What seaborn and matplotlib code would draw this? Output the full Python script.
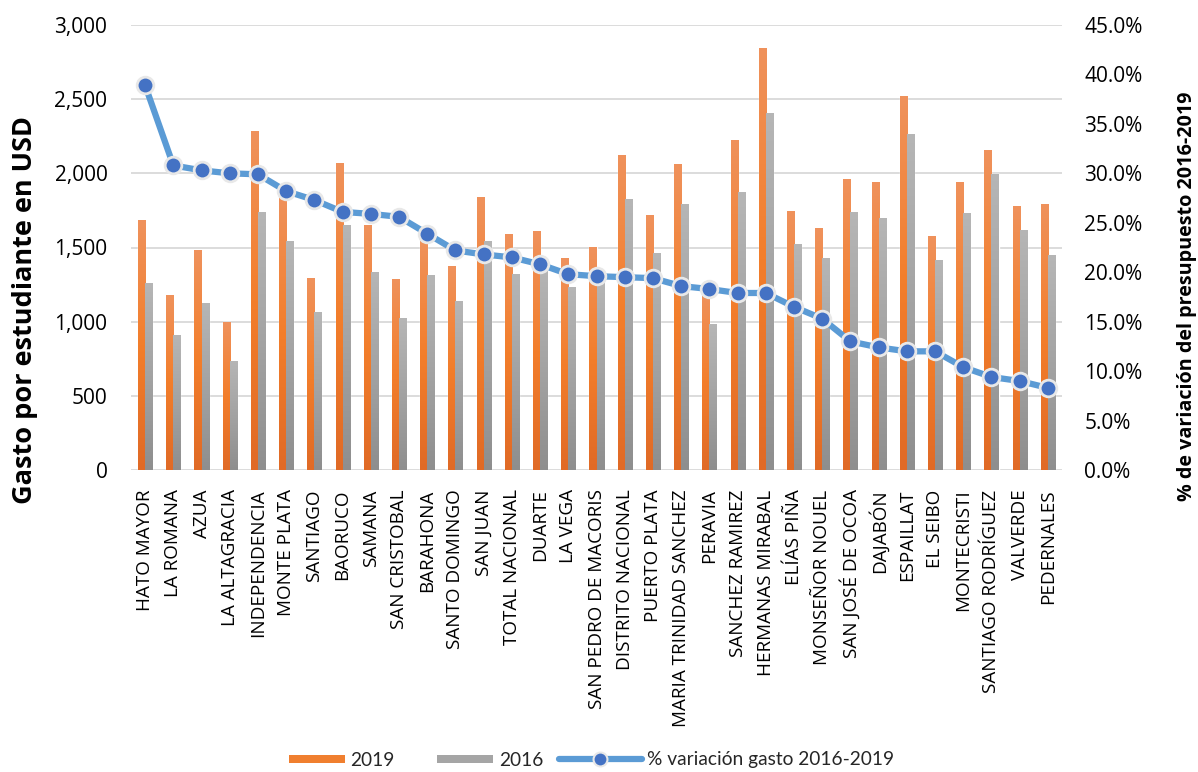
import numpy as np
import pandas as pd
import matplotlib
matplotlib.use("Agg")
import matplotlib.pyplot as plt
import seaborn as sns
from matplotlib.colors import LinearSegmentedColormap
from matplotlib.patches import Rectangle, Patch
from matplotlib.lines import Line2D
from matplotlib.legend_handler import HandlerPatch, HandlerLine2D
from matplotlib.ticker import FuncFormatter, MultipleLocator

# Provincias ordenadas por variación del presupuesto
provincias = [
    "HATO MAYOR", "LA ROMANA", "AZUA", "LA ALTAGRACIA", "INDEPENDENCIA",
    "MONTE PLATA", "SANTIAGO", "BAORUCO", "SAMANA", "SAN CRISTOBAL",
    "BARAHONA", "SANTO DOMINGO", "SAN JUAN", "TOTAL NACIONAL", "DUARTE",
    "LA VEGA", "SAN PEDRO DE MACORIS", "DISTRITO NACIONAL", "PUERTO PLATA",
    "MARIA TRINIDAD SANCHEZ", "PERAVIA", "SANCHEZ RAMIREZ", "HERMANAS MIRABAL",
    "ELÍAS PIÑA", "MONSEÑOR NOUEL", "SAN JOSÉ DE OCOA", "DAJABÓN", "ESPAILLAT",
    "EL SEIBO", "MONTECRISTI", "SANTIAGO RODRÍGUEZ", "VALVERDE", "PEDERNALES",
]

# Gasto por estudiante (USD)
gasto_2019 = [1685, 1180, 1483, 998, 2285, 1855, 1294, 2070, 1649, 1288,
              1551, 1375, 1840, 1591, 1611, 1429, 1503, 2124, 1719, 2063,
              1200, 2225, 2845, 1746, 1631, 1962, 1942, 2521, 1578, 1942,
              2157, 1780, 1793]
gasto_2016 = [1261, 910, 1126, 735, 1739, 1544, 1065, 1649, 1335, 1025,
              1315, 1139, 1544, 1321, 1380, 1234, 1300, 1827, 1463, 1793,
              984, 1874, 2407, 1524, 1429, 1739, 1699, 2265, 1416, 1733,
              1996, 1618, 1449]

# Variación del presupuesto 2016-2019 (%)
variacion_pct = [38.9, 30.8, 30.3, 30.0, 29.9, 28.2, 27.3, 26.1, 25.9, 25.6,
                 23.9, 22.2, 21.8, 21.5, 20.8, 19.8, 19.6, 19.5, 19.4, 18.6,
                 18.3, 17.9, 17.9, 16.5, 15.3, 13.0, 12.4, 12.0, 12.0, 10.4,
                 9.4, 9.0, 8.3]

anios = ["2019", "2016"]
color_2019 = "#F07F2F"
color_2016 = "#A5A5A5"
color_linea = "#5B9BD5"
color_marcador = "#4472C4"

sns.set_theme(style="white")
plt.rcParams["font.family"] = ["Open Sans", "DejaVu Sans"]
fuente_compacta = ["Lato", "DejaVu Sans"]
texto = "#000000"

n = len(provincias)
df = pd.DataFrame({
    "provincia": provincias * 2,
    "gasto": gasto_2019 + gasto_2016,
    "anio": [anios[0]] * n + [anios[1]] * n,
})

fig = plt.figure(figsize=(11.98, 7.72), dpi=100)
ax = fig.add_axes([131 / 1198, 1 - 470 / 772, (1062 - 131) / 1198, 445 / 772])

sns.barplot(data=df, x="provincia", y="gasto", hue="anio", hue_order=anios,
            palette={anios[0]: color_2019, anios[1]: color_2016},
            width=0.5, gap=0, saturation=1, errorbar=None, legend=False, ax=ax)

# Degradado vertical dentro de cada barra
grad = np.linspace(0, 1, 256).reshape(-1, 1)
cmaps = [
    LinearSegmentedColormap.from_list("g19", ["#E06A26", "#F37E2B", "#EF925C"]),
    LinearSegmentedColormap.from_list("g16", ["#8E8E8E", "#A3A3A3", "#B6B6B6"]),
]
for cont, cmap in zip(ax.containers, cmaps):
    for bar in cont:
        x0, y0 = bar.get_x(), bar.get_y()
        w, h = bar.get_width(), bar.get_height()
        im = ax.imshow(grad, extent=[x0, x0 + w, y0, y0 + h], origin="lower",
                       aspect="auto", cmap=cmap, zorder=bar.get_zorder(),
                       interpolation="bilinear")
        im.set_clip_path(bar)

ax.set_xlim(-0.5, n - 0.5)
ax.set_ylim(0, 3000)
ax.yaxis.set_major_locator(MultipleLocator(500))
ax.yaxis.set_major_formatter(FuncFormatter(lambda v, p: f"{v:,.0f}"))
ax.yaxis.grid(True, color="#D9D9D9", lw=1.3)
ax.xaxis.grid(False)
ax.set_axisbelow(True)
for s in ax.spines.values():
    s.set_visible(False)
ax.set_xlabel("")
ax.set_ylabel("")
ax.tick_params(axis="y", length=0, pad=17, labelsize=15, labelcolor=texto)
ax.tick_params(axis="x", length=0, pad=14, labelsize=13.6, labelcolor=texto)
plt.setp(ax.get_xticklabels(), rotation=90, ha="center", va="top")

# Línea de variación en el eje secundario
ax2 = ax.twinx()
sns.lineplot(x=np.arange(n), y=variacion_pct, ax=ax2, color=color_linea, lw=4.5,
             marker="o", markersize=12, markerfacecolor=color_marcador,
             markeredgecolor="#E8E8E8", markeredgewidth=2, legend=False)
ax2.set_ylim(0, 45)
ax2.yaxis.set_major_locator(MultipleLocator(5))
ax2.yaxis.set_major_formatter(FuncFormatter(lambda v, p: f"{v:.1f}%"))
ax2.grid(False)
for s in ax2.spines.values():
    s.set_visible(False)
ax2.set_ylabel("")
ax2.tick_params(axis="y", length=0, pad=16, labelsize=15, labelcolor=texto)
ax2.set_xlim(-0.5, n - 0.5)

fig.text(25 / 1198, 1 - 310 / 772, "Gasto por estudiante en USD", rotation=90,
         ha="center", va="center", fontsize=19.5, fontweight="bold", color=texto)
fig.text(1187 / 1198, 1 - 296 / 772, "% de variación del presupuesto 2016-2019",
         rotation=90, ha="center", va="center", fontsize=14.2, fontweight="bold",
         color=texto)


def barra_leyenda(legend, orig_handle, xdescent, ydescent, width, height, fontsize):
    w = width * 56 / 83
    h = fontsize * 0.42
    return Rectangle((-xdescent + width - w, -ydescent + (height - h) / 2), w, h)


class LineaConMarcador(HandlerLine2D):
    """Marcador de la leyenda desplazado hacia la derecha del trazo."""

    def get_xdata(self, legend, xdescent, ydescent, width, height, fontsize):
        xdata, xmarker = super().get_xdata(legend, xdescent, ydescent,
                                           width, height, fontsize)
        return xdata, np.asarray(xmarker) + width * 0.17


linea_leyenda = Line2D([0], [0], color=color_linea, lw=4.5, marker="o",
                       markersize=10, markerfacecolor=color_marcador,
                       markeredgecolor="#E8E8E8", markeredgewidth=1.5)
handles = [
    Patch(facecolor=color_2019, edgecolor="none"),
    Patch(facecolor=color_2016, edgecolor="none"),
    linea_leyenda,
]
tam_leyenda = 13.8
fig.legend(handles, ["2019", "2016", "% variación gasto 2016-2019"],
           loc="center", bbox_to_anchor=(578 / 1198, 1 - 760 / 772), ncol=3,
           frameon=False, prop={"family": fuente_compacta, "size": tam_leyenda},
           handlelength=83 / (tam_leyenda * 100 / 72), handletextpad=0.3,
           columnspacing=0.8,
           handler_map={Patch: HandlerPatch(patch_func=barra_leyenda),
                        linea_leyenda: LineaConMarcador()})

fig.savefig("out.png", dpi=100, facecolor="white")
